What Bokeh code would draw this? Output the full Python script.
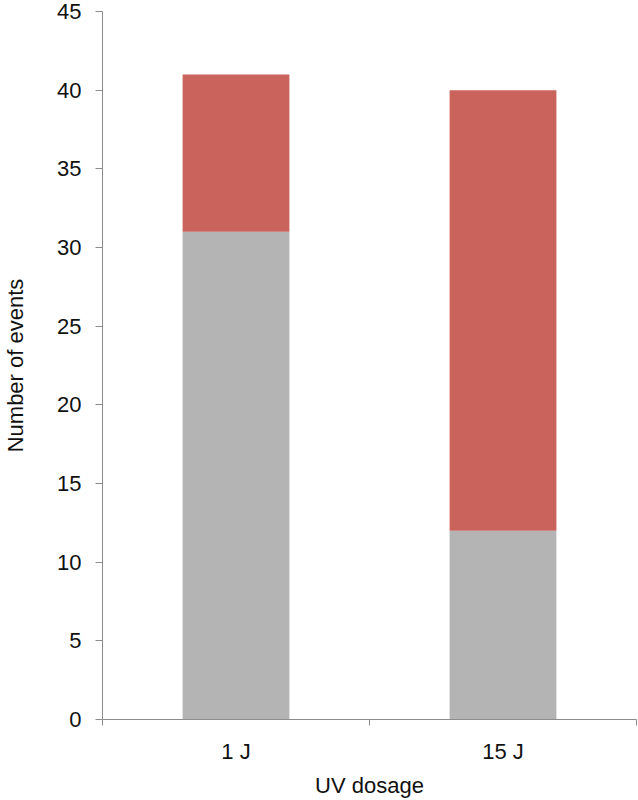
from bokeh.plotting import figure
from bokeh.models import FixedTicker, Range1d, ColumnDataSource
from bokeh.embed import file_html
from bokeh.resources import INLINE

categories = ["1 J", "15 J"]
gray_values = [31, 12]
red_values = [10, 28]
y_ticks = [0, 5, 10, 15, 20, 25, 30, 35, 40, 45]

x_pos = [i + 0.5 for i in range(len(categories))]
source = ColumnDataSource(dict(x=x_pos, gray=gray_values, red=red_values))

p = figure(width=638, height=800, output_backend="svg", toolbar_location=None,
           x_range=Range1d(0, len(categories)), y_range=Range1d(0, 45),
           min_border_left=102, min_border_right=2, min_border_top=11, min_border_bottom=81)

p.vbar_stack(["gray", "red"], x="x", width=0.4, source=source,
             color=["#B4B4B4", "#C9635B"], line_color=None)

FONT = "Liberation Sans"
AX = "#8C8C8C"

p.xaxis.ticker = FixedTicker(ticks=x_pos, minor_ticks=list(range(len(categories) + 1)))
p.xaxis.major_label_overrides = {x: c for x, c in zip(x_pos, categories)}
p.xaxis.major_tick_out = 0
p.xaxis.major_tick_in = 0
p.xaxis.minor_tick_out = 6
p.xaxis.minor_tick_in = 0
p.xaxis.minor_tick_line_color = AX
p.xaxis.axis_label = "UV dosage"
p.xaxis.major_label_standoff = 13

p.yaxis.ticker = FixedTicker(ticks=y_ticks)
p.yaxis.major_tick_out = 7
p.yaxis.major_tick_in = 0
p.yaxis.minor_tick_line_color = None
p.yaxis.axis_label = "Number of events"
p.yaxis.major_label_standoff = 14

for ax in (p.xaxis, p.yaxis):
    ax.axis_line_color = AX
    ax.major_tick_line_color = AX
    ax.major_label_text_font = FONT
    ax.major_label_text_font_size = "22px"
    ax.major_label_text_color = "#111111"
    ax.axis_label_text_font = FONT
    ax.axis_label_text_font_size = "22px"
    ax.axis_label_text_font_style = "normal"
    ax.axis_label_text_color = "#111111"
p.xaxis.axis_label_standoff = 6
p.yaxis.axis_label_standoff = 26

p.xgrid.grid_line_color = None
p.ygrid.grid_line_color = None
p.outline_line_color = None

open("out.html", "w").write(file_html(p, INLINE))
